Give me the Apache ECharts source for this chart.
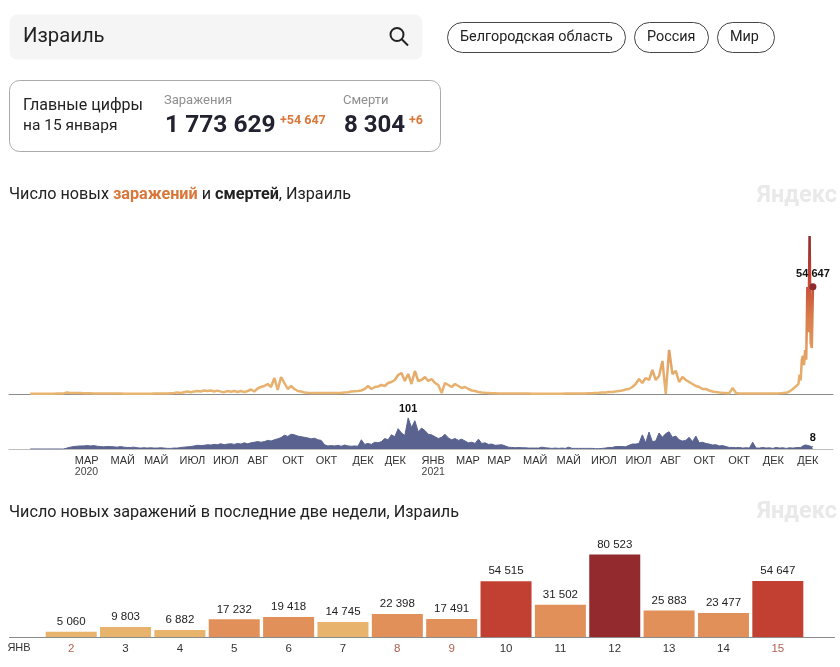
<!DOCTYPE html>
<html><head><meta charset="utf-8">
<style>html,body{margin:0;padding:0;background:#fff}#c{width:840px;height:667px}</style>
<script src="https://cdn.jsdelivr.net/npm/echarts@6/dist/echarts.min.js"></script>
</head><body><div id="c"></div>
<script>
const sampledCases = [
150,150,150,150,150,150,150,150,200,200,
300,770,510,510,460,510,410,360,410,300,
300,250,250,250,200,200,200,200,150,150,
150,150,150,150,150,150,150,200,200,200,
250,300,410,510,820,510,920,1280,920,1280,
1530,1280,1790,1530,1790,1280,1730,1220,920,1530,
1120,1530,1020,1530,920,1530,2300,1280,2800,3570,
4080,5100,3570,8160,2040,8670,5610,2550,4080,2550,
1530,1280,770,610,510,460,460,460,460,510,
510,510,510,610,770,920,1280,1430,1530,1790,
2550,4080,2550,3570,3820,4590,4080,5610,6120,7140,
9690,10710,6630,10200,5100,11730,6630,7140,8670,6630,
7650,5610,4590,510,5610,4590,3570,5100,4080,3060,
3570,2550,1790,1530,1020,770,610,510,410,360,
300,300,250,250,250,200,200,200,200,200,
150,150,150,150,150,150,150,150,150,150,
200,200,200,250,250,300,300,410,410,510,
610,770,770,1020,1020,1280,1530,1790,2300,2550,
3570,5100,7650,5610,8160,7140,12240,7140,9180,16830,
100,22440,10200,11730,6120,8670,7140,6120,5100,4080,
3570,2550,2550,1790,1280,1020,770,610,510,410,
3060,510,300,250,250,250,250,250,250,250,
250,250,250,300,360,460,610,1280,2550];
const sampledDeaths = [
0,0,0,0,0,0,0,0,0,0,
0,3,6,8,9,10,10,11,10,11,
9,8,7,8,8,7,6,8,6,5,
5,6,4,3,4,3,4,3,3,4,
3,2,2,3,3,5,6,7,8,10,
12,11,12,14,13,15,14,17,14,16,
17,15,18,16,20,17,20,22,24,22,
24,28,26,30,33,37,45,41,48,46,
42,40,38,36,33,35,30,28,14,10,
11,10,12,9,13,10,9,10,9,30,
15,18,15,22,20,24,34,30,46,40,
66,52,44,101,70,92,56,68,60,48,
46,40,34,38,48,36,30,34,28,32,
26,20,22,18,32,18,20,15,16,12,
13,14,10,6,5,4,5,4,4,3,
3,3,3,6,4,3,2,3,2,3,
2,6,2,2,2,2,2,2,2,1,
1,2,3,5,5,8,8,8,7,12,
16,16,18,46,20,55,24,26,52,38,
50,56,38,42,30,26,28,38,24,42,
20,22,18,16,13,14,10,11,8,5,
5,4,5,3,4,3,22,3,3,5,
3,4,2,5,3,4,2,4,3];
// Last two weeks, one value per day
const recentDays = ['2','3','4','5','6','7','8','9','10','11','12','13','14','15'];
const recentCases = [5060,9803,6882,17232,19418,14745,22398,17491,54515,31502,80523,25883,23477,54647];
const recentDeaths = [5,6,5,8,10,9,13,9,12,14,10,15,7,8];
const redDays = ['2','8','9','15'];
const monthLabels = ['МАР','МАЙ','МАЙ','ИЮЛ','ИЮЛ','АВГ','ОКТ','ОКТ','ДЕК','ДЕК','ЯНВ','МАР','МАР','МАЙ','МАЙ','ИЮЛ','ИЮЛ','АВГ','ОКТ','ОКТ','ДЕК','ДЕК'];
const yearLabels = {0:'2020',10:'2021'};
const monthDays = [40,72,102,134,164,195,226,256,289,318,351,382,410,442,472,503,534,565,595,626,657,688];

const FONT = 'Roboto, "Liberation Sans", sans-serif';
const AX = '"Liberation Sans", sans-serif';
const STEP = 3;
const toPairs = arr => arr.map((v, i) => [i * STEP, v]);
const lastSampledDay = (sampledCases.length - 1) * STEP;
const withRecent = (pairs, recent) => pairs.concat(recent.map((v, i) => [lastSampledDay + 5 + i, v]));
const casesData = withRecent(toPairs(sampledCases), recentCases);
const deathsData = withRecent(toPairs(sampledDeaths), recentDeaths);
const lastCase = casesData[casesData.length - 1];
const lastDeath = deathsData[deathsData.length - 1];
const peakDeath = deathsData.reduce((a, b) => b[1] > a[1] ? b : a);
const fmt = v => String(v).replace(/\B(?=(\d{3})+$)/g, ' ');
const barColor = v => v >= 70000 ? '#922a2e' : v >= 50000 ? '#c24032' : v >= 17000 ? '#e09058' : '#e8b36c';
const AXC = '#8c8c8c';
const DAYMIN = -19, DAYMAX = 720;

const txt = (x, y, text, size, color, weight, extra) => ({type:'text', x, y:y+1.5, z:10, silent:true,
  style:Object.assign({text, font:(weight||'normal')+' '+size+'px '+FONT, fill:color||'#222', textVerticalAlign:'middle'}, extra||{})});
const box = (x, y, w, h, r, fill, stroke) => ({type:'rect', silent:true, shape:{x,y,width:w,height:h,r},
  style:{fill:fill||'#fff', stroke:stroke||null, lineWidth:1}});
const seg = (x1, x2, y) => ({type:'line', silent:true, shape:{x1,y1:y,x2,y2:y}, style:{stroke:AXC, lineWidth:1}});

const chart = echarts.init(document.getElementById('c'), null, {renderer:'canvas'});
chart.setOption({
  animation:false,
  backgroundColor:'#fff',
  graphic:[
    box(9.5,14.5,413,45,8,'#f5f5f5'),
    txt(23,35,'Израиль',20.3,'#222'),
    {type:'circle', silent:true, shape:{cx:397,cy:34.5,r:6.5}, style:{fill:'none',stroke:'#222',lineWidth:2}},
    {type:'line', silent:true, shape:{x1:402,y1:39.5,x2:408,y2:45.5}, style:{stroke:'#222',lineWidth:2}},
    box(447.5,22.5,178,30,15,'#fff','#444'),
    txt(460,36,'Белгородская область',14.4,'#222'),
    box(634.5,22.5,74,30,15,'#fff','#444'),
    txt(647,36,'Россия',14.4,'#222'),
    box(717.5,22.5,57,30,15,'#fff','#444'),
    txt(730,36,'Мир',14.4,'#222'),
    box(9.5,80.5,431,71,10,'#fff','#aaa'),
    txt(23,104,'Главные цифры',16,'#222'),
    txt(23,125,'на 15 января',15.5,'#222'),
    txt(164,99,'Заражения',13,'#8f8f8f'),
    txt(165,124,'1 773 629',24.5,'#222230','bold'),
    txt(280,119,'+54 647',12.5,'#d9773a','bold'),
    txt(343,99,'Смерти',13,'#8f8f8f'),
    txt(344,124,'8 304',24,'#222230','bold'),
    txt(409,119,'+6',12.5,'#d9773a','bold'),
    {type:'text', x:9, y:195, z:10, silent:true, style:{
      text:'{a|Число новых }{b|заражений}{a| и }{c|смертей}{a|, Израиль}',
      textVerticalAlign:'middle',
      rich:{a:{font:'16.2px '+FONT,fill:'#222'},b:{font:'bold 16.2px '+FONT,fill:'#d9773a'},c:{font:'bold 16.2px '+FONT,fill:'#222'}}}},
    txt(757,195,'Яндекс',23.5,'#e9e9e9','bold'),
    txt(9,511,'Число новых заражений в последние две недели, Израиль',16.2,'#222'),
    txt(757,511,'Яндекс',23.5,'#e9e9e9','bold'),
    seg(9,44,637.5), seg(805,835,637.5),
    {type:'text', x:19, y:648, z:10, silent:true, style:{text:'ЯНВ', font:'11px '+AX, fill:'#333', textAlign:'center', textVerticalAlign:'middle'}}
  ],
  grid:[
    {left:9, width:824, top:224, height:170},
    {left:9, width:824, top:409, height:40},
    {left:44, width:761, top:532, height:105}
  ],
  xAxis:[
    {type:'value', gridIndex:0, min:DAYMIN, max:DAYMAX, splitLine:{show:false}, axisTick:{show:false}, axisLabel:{show:false},
      axisLine:{show:true, onZero:false, lineStyle:{color:AXC}}},
    {type:'value', gridIndex:1, min:DAYMIN, max:DAYMAX, splitLine:{show:false}, axisTick:{show:false},
      axisLine:{show:true, onZero:false, lineStyle:{color:'#bdbdbd'}},
      axisLabel:{show:true, customValues:monthDays, align:'left', margin:5, verticalAlign:'top', showMinLabel:true, showMaxLabel:true, hideOverlap:false,
        formatter:v => {
          const i = monthDays.indexOf(v);
          return i in yearLabels ? '{m|'+monthLabels[i]+'}\n{y|'+yearLabels[i]+'}' : '{m|'+monthLabels[i]+'}';
        },
        rich:{m:{fontFamily:AX,fontSize:11,color:'#333',lineHeight:13},y:{fontFamily:AX,fontSize:10.5,color:'#444',lineHeight:11}}}},
    {type:'category', gridIndex:2, data:recentDays, axisTick:{show:false},
      axisLine:{show:true, lineStyle:{color:AXC}},
      axisLabel:{interval:0, margin:6, fontFamily:AX, fontSize:11, lineHeight:12,
        formatter:v => redDays.includes(v) ? '{r|'+v+'}' : '{n|'+v+'}',
        rich:{r:{color:'#b0604f',fontFamily:AX,fontSize:11.5},n:{color:'#333',fontFamily:AX,fontSize:11.5}}}}
  ],
  yAxis:[
    {type:'value', gridIndex:0, min:0, max:86640, show:false},
    {type:'value', gridIndex:1, min:0, max:130, show:false},
    {type:'value', gridIndex:2, min:0, max:102500, show:false}
  ],
  visualMap:[{type:'continuous', show:false, seriesIndex:0, dimension:1, min:0, max:80523,
    inRange:{color:['#e8b571','#e3a063','#d8794a','#c24032','#8f2a2e']}}],
  series:[
    {type:'line', xAxisIndex:0, yAxisIndex:0, data:casesData, symbol:'none', lineStyle:{width:2.5}, clip:false,
      markPoint:{silent:true, symbol:'circle', symbolSize:7, itemStyle:{color:'#8f2a2e'},
        label:{show:true, position:'top', distance:4, color:'#111', fontFamily:AX, fontWeight:'bold', fontSize:11},
        data:[{coord:lastCase, value:fmt(lastCase[1])}]}},
    {type:'line', xAxisIndex:1, yAxisIndex:1, data:deathsData, symbol:'none', lineStyle:{width:1,color:'#5a6390'},
      areaStyle:{color:'#5a6390', opacity:1},
      markPoint:{silent:true, symbol:'circle', symbolSize:0,
        label:{show:true, position:'top', distance:3, color:'#111', fontFamily:AX, fontWeight:'bold', fontSize:11},
        data:[{coord:peakDeath, value:String(peakDeath[1])},{coord:lastDeath, value:String(lastDeath[1])}]}},
    {type:'bar', xAxisIndex:2, yAxisIndex:2, barWidth:51,
      data:recentCases.map(v => ({value:v, itemStyle:{color:barColor(v)}})),
      label:{show:true, position:'top', distance:4, color:'#222', fontFamily:AX, fontSize:11.5, formatter:p => fmt(p.value)}}
  ]
});
</script></body></html>
